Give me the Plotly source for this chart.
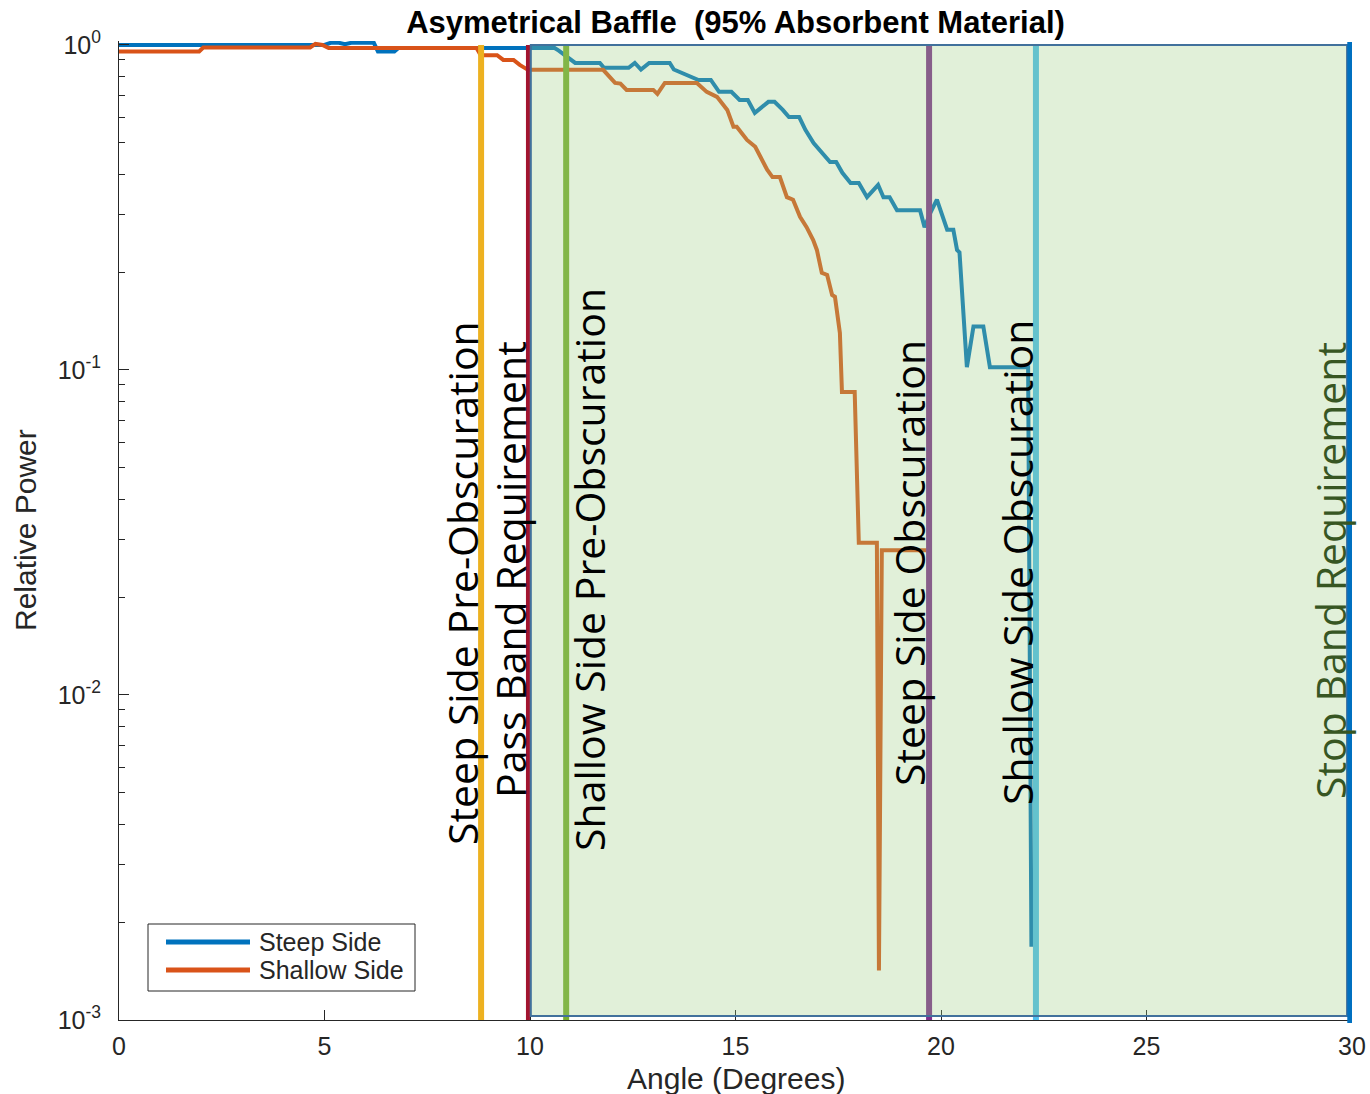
import plotly.graph_objects as go

# ---------------- data ----------------
steep_x = [0.0, 4.85, 5.0, 5.15, 5.35, 5.5, 5.65, 6.2, 6.3, 6.7, 6.8, 10.6, 10.7, 11.1, 11.7, 11.8,
           12.4, 12.55, 12.7, 12.9, 13.4, 13.5, 13.8, 14.1, 14.4, 14.6, 14.9, 15.1, 15.3, 15.47,
           15.8, 15.95, 16.15, 16.3, 16.55, 16.7, 16.9, 17.05, 17.3, 17.45, 17.6, 17.8, 18.0,
           18.2, 18.47, 18.6, 18.75, 18.93, 19.49, 19.6, 19.75, 19.9, 20.15, 20.3, 20.39, 20.45,
           20.63, 20.79, 21.03, 21.19, 22.12, 22.2]
steep_y = [1.0, 1.0, 1.0, 1.015, 1.015, 1.005, 1.015, 1.015, 0.955, 0.955, 0.978, 0.978, 0.96,
           0.88, 0.88, 0.85, 0.85, 0.88, 0.84, 0.88, 0.88, 0.84, 0.81, 0.78, 0.78, 0.717, 0.717,
           0.677, 0.677, 0.618, 0.668, 0.668, 0.631, 0.60, 0.60, 0.548, 0.499, 0.475, 0.436,
           0.436, 0.404, 0.376, 0.376, 0.34, 0.371, 0.34, 0.34, 0.31, 0.31, 0.275, 0.306, 0.334,
           0.27, 0.27, 0.234, 0.23, 0.102, 0.136, 0.136, 0.102, 0.102, 0.00168]

shallow_x = [0.0, 1.95, 2.05, 4.65, 4.78, 4.95, 5.1, 8.7, 8.8, 9.2, 9.35, 9.6, 9.75, 9.95, 11.78,
             12.07, 12.2, 12.35, 13.0, 13.1, 13.28, 14.06, 14.3, 14.55, 14.8, 14.95, 15.03,
             15.28, 15.48, 15.6, 15.77, 15.9, 16.08, 16.25, 16.4, 16.57, 16.73, 16.89, 16.98,
             17.1, 17.23, 17.35, 17.42, 17.54, 17.59, 17.9, 18.0, 18.39, 18.44, 18.49, 18.56,
             19.65]
shallow_y = [0.955, 0.955, 0.982, 0.982, 1.007, 1.0, 0.978, 0.978, 0.93, 0.93, 0.899, 0.899, 0.868,
             0.838, 0.838, 0.764, 0.76, 0.727, 0.727, 0.707, 0.764, 0.764, 0.717, 0.692, 0.631,
             0.56, 0.56, 0.51, 0.486, 0.452, 0.413, 0.392, 0.392, 0.34, 0.334, 0.296, 0.275,
             0.251, 0.234, 0.199, 0.196, 0.17, 0.168, 0.13, 0.0855, 0.0855, 0.0294, 0.0294,
             0.0294, 0.00142, 0.0279, 0.0279]

marker_angles = [8.81, 9.95, 10.88, 19.71, 22.31, 29.97]
marker_labels = ["Steep Side Pre-Obscuration", "Pass Band Requirement",
                 "Shallow Side Pre-Obscuration", "Steep Side Obscuration",
                 "Shallow Side Obscuration", "Stop Band Requirement"]
marker_colors = ["#EDB120", "#A2142F", "#77AC30", "#7E2F8E", "#4DBEEE", "#0070C0"]

band_start, band_end = 10.02, 29.88

x_ticks = [0, 5, 10, 15, 20, 25, 30]
y_ticks = [0.001, 0.01, 0.1, 1]
y_ticktext = ["10<sup>-3</sup>", "10<sup>-2</sup>", "10<sup>-1</sup>", "10<sup>0</sup>"]
series_names = ["Steep Side", "Shallow Side"]
series_colors = ["#0072BD", "#D95319"]

# ---------------- layout helpers ----------------
W_PAGE, H_PAGE = 1370, 1094
L, R_EDGE, T, B = 119, 1352, 41, 1020   # plot area in page pixels
PW, PH = R_EDGE - L, B - T


def pxx(x):
    return (x - L) / PW


def pxy(y):
    return (B - y) / PH


AX = "#262626"
SANS = "Liberation Sans, Arial, sans-serif"
CAL = "Open Sans, Noto Sans, sans-serif"

fig = go.Figure()
fig.add_trace(go.Scatter(x=steep_x, y=steep_y, mode="lines", name=series_names[0],
                         line=dict(color=series_colors[0], width=4), showlegend=False))
fig.add_trace(go.Scatter(x=shallow_x, y=shallow_y, mode="lines", name=series_names[1],
                         line=dict(color=series_colors[1], width=4), showlegend=False))

shapes = []
widths = [6, 4, 6, 6, 6, 7]
for i, (a, c) in enumerate(zip(marker_angles, marker_colors)):
    if i == len(marker_angles) - 1:
        continue
    shapes.append(dict(type="line", xref="x", yref="paper", x0=a, x1=a, y0=0, y1=pxy(45),
                       line=dict(color=c, width=widths[i]), layer="above"))
# translucent band
shapes.append(dict(type="rect", xref="x", yref="paper", x0=band_start, x1=band_end,
                   y0=pxy(1016), y1=pxy(45), fillcolor="rgba(156,205,128,0.3)",
                   line=dict(color="#41719C", width=2), layer="above"))
# stop band line (outside band)
shapes.append(dict(type="line", xref="x", yref="paper", x0=marker_angles[-1], x1=marker_angles[-1],
                   y0=pxy(1023), y1=pxy(42), line=dict(color=marker_colors[-1], width=widths[-1]),
                   layer="above"))
# legend box
shapes.append(dict(type="rect", xref="paper", yref="paper", x0=pxx(148), x1=pxx(415),
                   y0=pxy(991), y1=pxy(924), fillcolor="white", line=dict(color=AX, width=1),
                   layer="above"))
for yy, c in zip([942, 970], series_colors):
    shapes.append(dict(type="line", xref="paper", yref="paper", x0=pxx(166), x1=pxx(250),
                       y0=pxy(yy), y1=pxy(yy), line=dict(color=c, width=5), layer="above"))

annotations = []
label_pos = [(462, 583), (510, 570), (589, 570), (909, 563), (1017, 563), (1330, 571)]
label_col = ["black", "black", "black", "black", "black", "#375623"]
for txt, (cx, cy), col in zip(marker_labels, label_pos, label_col):
    annotations.append(dict(text=txt, xref="paper", yref="paper", x=pxx(cx), y=pxy(cy),
                            xanchor="center", yanchor="middle", textangle=-90, showarrow=False,
                            font=dict(family=CAL, size=41, color=col)))
for yy, name in zip([942, 970], series_names):
    annotations.append(dict(text=name, xref="paper", yref="paper", x=pxx(257), y=pxy(yy),
                            xanchor="left", yanchor="middle", showarrow=False,
                            font=dict(family=SANS, size=25, color=AX)))
annotations.append(dict(text="Angle (Degrees)", xref="paper", yref="paper", x=pxx(735.5), y=pxy(1078),
                        xanchor="center", yanchor="middle", showarrow=False,
                        font=dict(family=SANS, size=30, color=AX)))
annotations.append(dict(text="Relative Power", xref="paper", yref="paper", x=pxx(25), y=pxy(530),
                        xanchor="center", yanchor="middle", textangle=-90, showarrow=False,
                        font=dict(family=SANS, size=30, color=AX)))

minor_vals = [m * 10 ** e for e in (-3, -2, -1) for m in range(2, 10)]

fig.update_layout(
    width=W_PAGE, height=H_PAGE,
    margin=dict(l=L, r=W_PAGE - R_EDGE, t=T, b=H_PAGE - B, pad=0, autoexpand=False),
    paper_bgcolor="white", plot_bgcolor="white",
    title=dict(text="<b>Asymetrical Baffle \u00a0(95% Absorbent Material)</b>",
               x=pxx(735.5), xref="paper", xanchor="center",
               y=1 - 22 / H_PAGE, yref="container", yanchor="middle",
               font=dict(family=SANS, size=31, color="black")),
    xaxis=dict(range=[0, 30], tickvals=x_ticks, ticks="inside", ticklen=10, tickwidth=1,
               tickcolor=AX, showline=True, linecolor=AX, linewidth=1, showgrid=False,
               zeroline=False, tickfont=dict(family=SANS, size=25, color=AX),
               ticklabelstandoff=4, automargin=False),
    yaxis=dict(type="log", range=[-3, 0.012], tickvals=y_ticks, ticktext=y_ticktext,
               ticks="inside", ticklen=10, tickwidth=1, tickcolor=AX, showline=True,
               linecolor=AX, linewidth=1, showgrid=False, zeroline=False,
               tickfont=dict(family=SANS, size=25, color=AX), ticklabelstandoff=12,
               automargin=False,
               minor=dict(tickmode="array", tickvals=minor_vals, ticks="inside", ticklen=6,
                          tickcolor=AX, showgrid=False)),
    shapes=shapes,
    annotations=annotations,
)

fig.write_html("out.html", config={"displayModeBar": False},
               post_script="document.body.style.margin='0';document.body.style.overflow='hidden';")
